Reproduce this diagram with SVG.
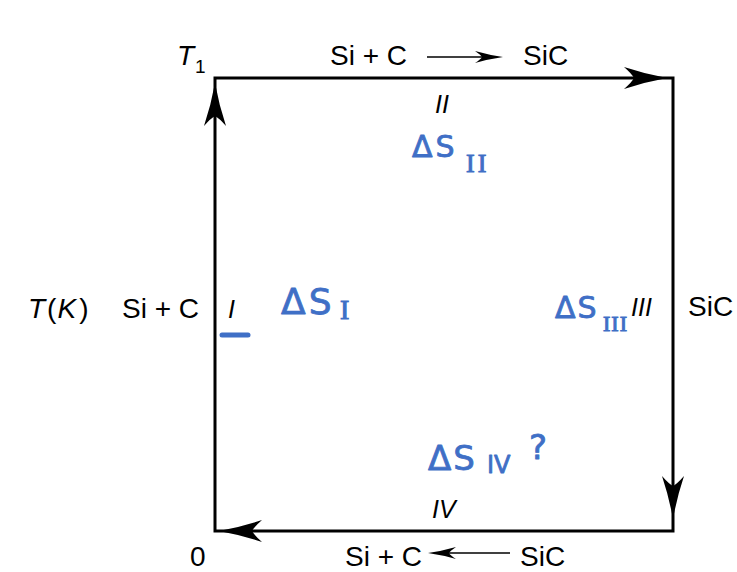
<svg xmlns="http://www.w3.org/2000/svg" width="737" height="572" viewBox="0 0 737 572">
<style>
.lbl{font-family:"Liberation Sans",Arial,sans-serif;font-size:28px;fill:#000}
.it{font-style:italic}
.rn{font-size:25px}
.hw{font-family:"DejaVu Sans","Liberation Sans",sans-serif;fill:#3f6fc6;stroke:#3f6fc6;stroke-width:0.8;stroke-linejoin:round}
.hws{font-family:"Liberation Serif","DejaVu Serif",serif;fill:#3f6fc6;stroke:#3f6fc6;stroke-width:1}
.edge{fill:none;stroke:#000;stroke-width:3}
.thin{fill:none;stroke:#000;stroke-width:1.6}
</style>
<defs>
<path id="ah" d="M0,0 Q-22,-4 -43,-11 Q-35,-4 -33,0 Q-35,4 -43,11 Q-22,4 0,0 Z" fill="#000"/>
<path id="sah" d="M0,0 Q-14,-2 -28,-6 Q-22,-2 -21,0 Q-22,2 -28,6 Q-14,2 0,0 Z" fill="#000"/>
</defs>
<rect width="737" height="572" fill="#fff"/>
<g id="connectors">
<path class="edge" d="M215,531 L215,78 L673,78 L673,531 Z"/>
<use href="#ah" transform="translate(667,78)"/>
<use href="#ah" transform="translate(215,83) rotate(-90)"/>
<use href="#ah" transform="translate(673,519) rotate(90)"/>
<use href="#ah" transform="translate(219,531) rotate(180)"/>
<line class="thin" x1="427" y1="57" x2="490" y2="57"/>
<use href="#sah" transform="translate(503,57)"/>
<line class="thin" x1="510" y1="553" x2="440" y2="553"/>
<use href="#sah" transform="translate(428,553) rotate(180)"/>
</g>
<g id="top-labels">
<text class="lbl it" x="177" y="65">T</text>
<text class="lbl" x="195" y="73" style="font-size:19px">1</text>
<text class="lbl" x="330" y="65">Si + C</text>
<text class="lbl" x="523" y="65">SiC</text>
<text class="lbl it rn" x="435" y="113">II</text>
</g>
<g id="left-labels">
<text class="lbl" x="28" y="318"><tspan class="it">T</tspan><tspan dx="2">(</tspan><tspan class="it" dx="1">K</tspan><tspan dx="3">)</tspan></text>
<text class="lbl" x="122" y="318">Si + C</text>
<text class="lbl it rn" x="228" y="318">I</text>
<line x1="222" y1="335" x2="248" y2="335" stroke="#3f6fc6" stroke-width="5" stroke-linecap="round"/>
</g>
<g id="right-labels">
<text class="lbl it rn" x="631" y="316">III</text>
<text class="lbl" x="688" y="316">SiC</text>
</g>
<g id="bottom-labels">
<text class="lbl it rn" x="432" y="518">IV</text>
<text class="lbl" x="190" y="566">0</text>
<text class="lbl" x="345" y="566">Si + C</text>
<text class="lbl" x="520" y="566">SiC</text>
</g>
<g id="annotations">
<text class="hw" x="412" y="157" font-size="30" letter-spacing="3">ΔS</text>
<text class="hws" x="466" y="172" font-size="26" letter-spacing="3">II</text>
<text class="hw" x="281" y="314" font-size="36" letter-spacing="3">ΔS</text>
<text class="hws" x="340" y="319" font-size="28">I</text>
<text class="hw" x="555" y="318" font-size="30" letter-spacing="2">ΔS</text>
<text class="hws" x="603" y="331" font-size="22" letter-spacing="1">III</text>
<text class="hw" x="428" y="470" font-size="34" letter-spacing="2">ΔS</text>
<text class="hw" x="487" y="473" font-size="24">IV</text>
<text class="hw" x="529" y="459" font-size="34">?</text>
</g>
</svg>
